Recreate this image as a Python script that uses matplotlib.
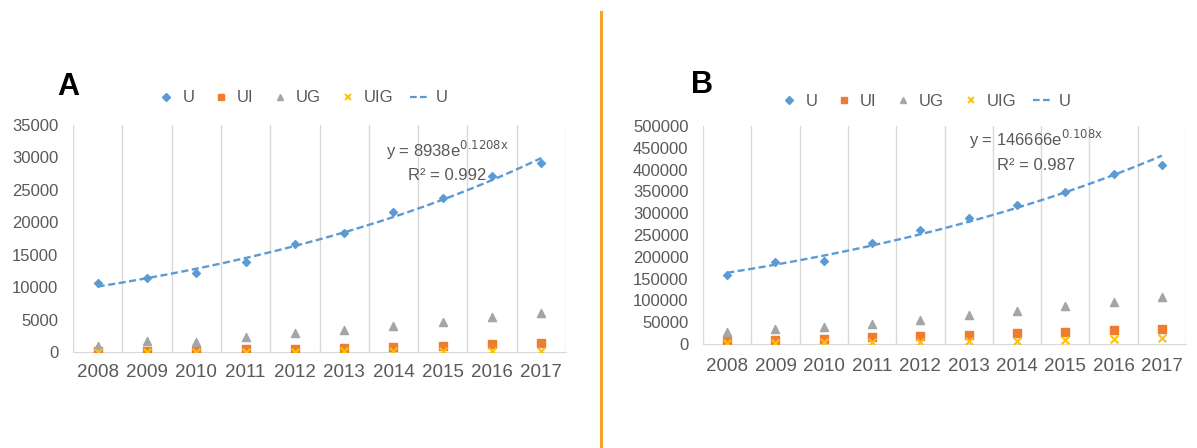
import numpy as np
import matplotlib.pyplot as plt
from matplotlib.lines import Line2D

plt.rcParams['font.family'] = ['Liberation Sans', 'DejaVu Sans']

years = ['2008', '2009', '2010', '2011', '2012', '2013', '2014', '2015', '2016', '2017']

# panel A
a_u = [10600, 11400, 12150, 13900, 16600, 18400, 21600, 23800, 27200, 29200]
a_ui = [150, 200, 200, 400, 500, 600, 800, 970, 1190, 1340]
a_ug = [1000, 1700, 1500, 2350, 2900, 3400, 4050, 4700, 5400, 6000]
a_uig = [10, 20, 30, 50, 70, 90, 110, 140, 170, 200]
a_fit = (8938, 0.1208)
a_eq = ('y = 8938e$^{\\mathrm{0.1208x}}$', 'R² = 0.992')

# panel B
b_u = [157500, 187000, 189500, 232000, 262500, 288000, 318500, 348500, 389000, 410000]
b_ui = [7000, 9200, 10800, 16900, 19200, 20700, 24600, 27000, 32300, 33800]
b_ug = [27000, 34500, 38400, 46000, 55300, 66800, 76500, 87500, 96500, 107500]
b_uig = [2000, 2500, 3500, 4000, 5000, 6000, 7000, 8500, 11500, 13100]
b_fit = (146666, 0.108)
b_eq = ('y = 146666e$^{\\mathrm{0.108x}}$', 'R² = 0.987')

c_u = '#5B9BD5'
c_ui = '#ED7D31'
c_ug = '#A5A5A5'
c_uig = '#FFC000'
txt = '#595959'

W, H = 1197, 448
fig = plt.figure(figsize=(W / 100, H / 100), dpi=100)


def panel(px, u, ui, ug, uig, fit, eq, ymax, ystep, eq_xy, letter, letter_xy, leg_xy, xpad):
    # px = (left, right, y of top value, y of zero) in pixels
    l, r, t, b = px
    ax = fig.add_axes([l / W, 1 - b / H, (r - l) / W, (b - t) / H])
    x = np.arange(len(years))
    ax.scatter(x, u, marker='D', s=16, color=c_u, zorder=3)
    ax.scatter(x, ui, marker='s', s=30, color=c_ui, zorder=3)
    ax.scatter(x, ug, marker='^', s=34, color=c_ug, zorder=3)
    ax.scatter(x, uig, marker='x', s=30, color=c_uig, linewidths=1.5, zorder=4)
    xs = np.linspace(0, len(years) - 1, 100)
    ax.plot(xs, fit[0] * np.exp(fit[1] * (xs + 1)), ls=(0, (3, 1.5)), color=c_u, lw=1.7, zorder=2)

    ax.set_xlim(-0.5, len(years) - 0.5)
    ax.set_ylim(0, ymax)
    ax.set_yticks(np.arange(0, ymax + 1, ystep))
    ax.set_xticks(x)
    ax.set_xticklabels(years, fontsize=13.5)
    for bd in np.arange(-0.5, len(years), 1):
        ax.axvline(bd, color='#D9D9D9', lw=1, zorder=1)
    for s in ['top', 'right', 'left']:
        ax.spines[s].set_visible(False)
    ax.spines['bottom'].set_color('#D9D9D9')
    ax.tick_params(axis='both', length=0, colors=txt)
    ax.tick_params(axis='y', labelsize=12, pad=10.5)
    ax.tick_params(axis='x', pad=xpad)

    ax.text(eq_xy[0], eq_xy[1], eq[0] + '\n' + eq[1], transform=ax.transAxes,
            ha='center', va='top', fontsize=12, color=txt, linespacing=1.55)

    fig.text(letter_xy[0] / W, 1 - letter_xy[1] / H, letter, fontsize=22, fontweight='bold',
             color='black', ha='left', va='center')

    handles = [
        Line2D([], [], ls='none', marker='D', ms=4, color=c_u, label='U'),
        Line2D([], [], ls='none', marker='s', ms=5, color=c_ui, label='UI'),
        Line2D([], [], ls='none', marker='^', ms=5, color=c_ug, label='UG'),
        Line2D([], [], ls='none', marker='x', ms=5, mew=1.4, color=c_uig, label='UIG'),
        Line2D([], [], ls=(0, (3, 1.5)), lw=1.6, color=c_u, label='U'),
    ]
    leg = fig.legend(handles=handles, loc='center', bbox_to_anchor=(leg_xy[0] / W, 1 - leg_xy[1] / H),
                     ncol=5, frameon=False, fontsize=12, handlelength=1.2, handletextpad=0.35,
                     columnspacing=1.0, borderaxespad=0, borderpad=0)
    for tx in leg.get_texts():
        tx.set_color(txt)
    return ax


panel((73, 566, 125, 352), a_u, a_ui, a_ug, a_uig, a_fit, a_eq,
      35000, 5000, (0.76, 0.94), 'A', (57, 87), (302, 98), 8.5)
panel((703, 1186, 126, 344), b_u, b_ui, b_ug, b_uig, b_fit, b_eq,
      500000, 50000, (0.69, 0.99), 'B', (691, 85), (925, 101), 10)

fig.add_artist(Line2D([601 / W, 601 / W], [0, 1 - 12 / H], color='#F7A52A', lw=2.2))

fig.savefig('out.png', dpi=100)
